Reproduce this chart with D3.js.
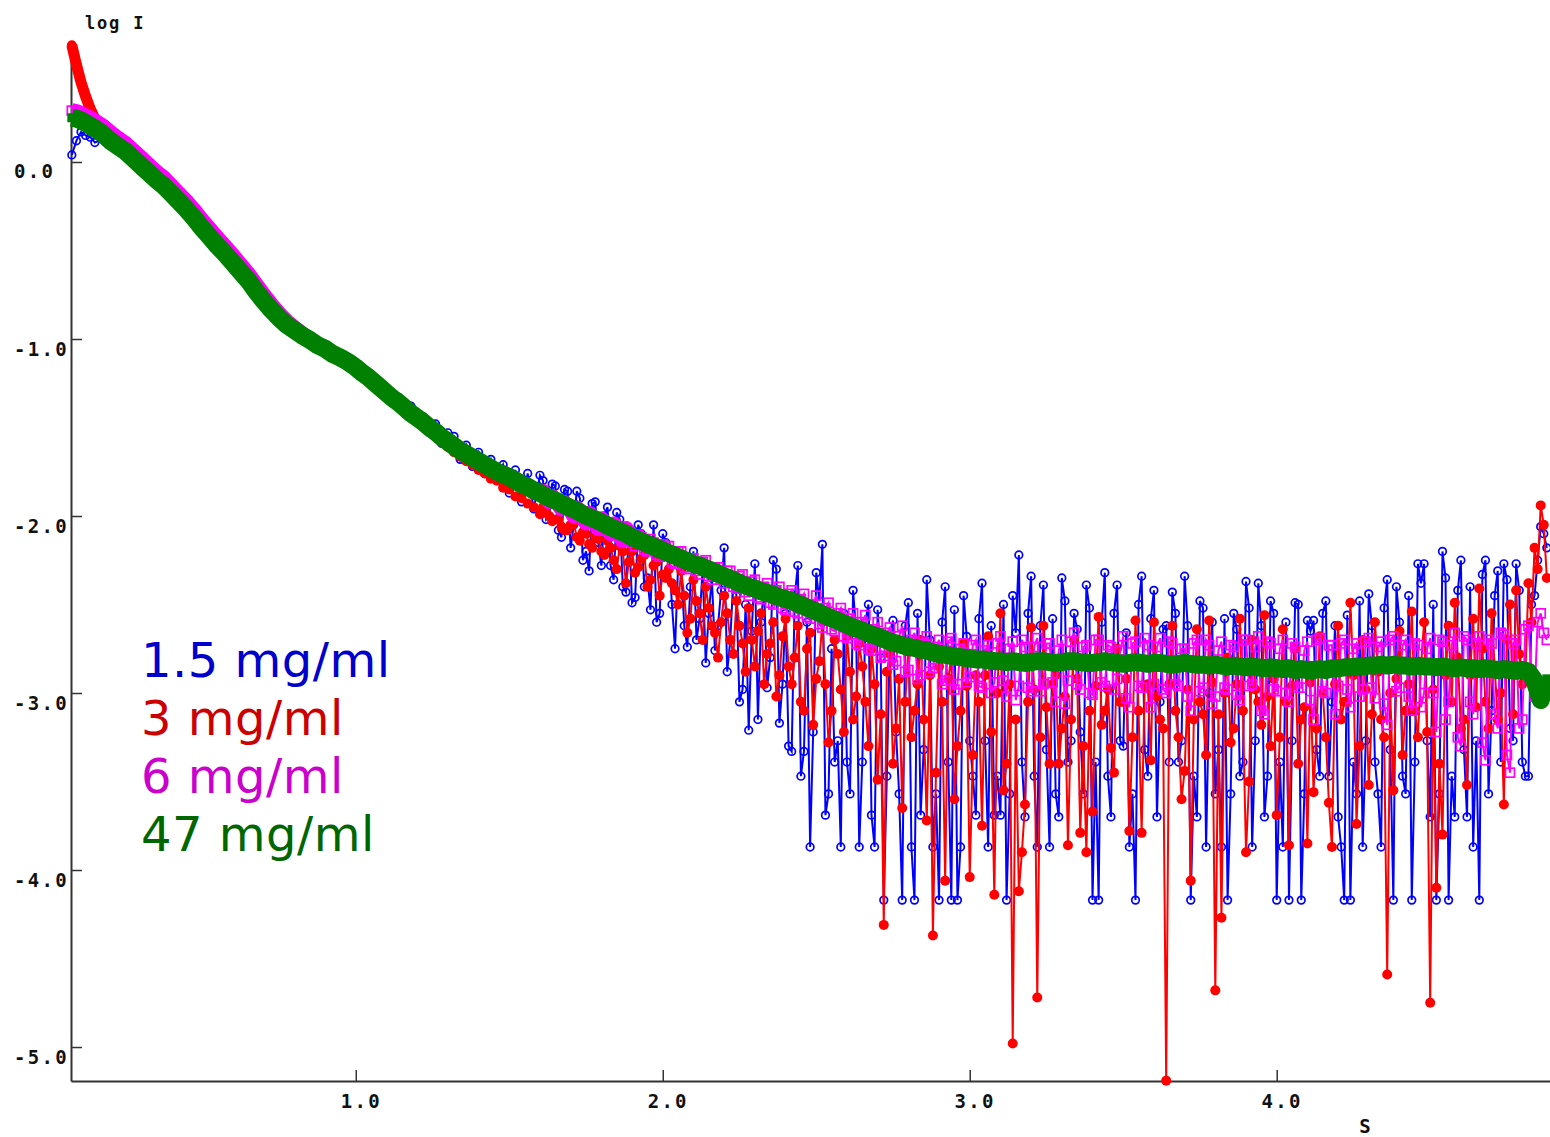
<!DOCTYPE html>
<html>
<head>
<meta charset="utf-8">
<script src="https://cdn.jsdelivr.net/npm/d3@7"></script>
<style>
  body { margin: 0; background: #ffffff; }
  svg { display: block; }
</style>
</head>
<body>
<svg id="chart" width="1550" height="1137"></svg>
<script>
// s values shared by all four curves
const sGrid = [
  0.075, 0.09, 0.105, 0.12, 0.135, 0.15, 0.175, 0.2, 0.225, 0.25,
  0.275, 0.3, 0.325, 0.35, 0.375, 0.4, 0.425, 0.45, 0.475, 0.5,
  0.525, 0.55, 0.575, 0.6, 0.625, 0.65, 0.675, 0.7, 0.725, 0.75,
  0.775, 0.8, 0.825, 0.85, 0.875, 0.9, 0.925, 0.95, 0.975, 1.0,
  1.02, 1.04, 1.06, 1.08, 1.1, 1.12, 1.14, 1.16, 1.18, 1.2,
  1.22, 1.24, 1.26, 1.28, 1.3, 1.32, 1.34, 1.36, 1.38, 1.4,
  1.42, 1.44, 1.46, 1.48, 1.5, 1.52, 1.54, 1.56, 1.58, 1.6,
  1.62, 1.64, 1.66, 1.68, 1.7, 1.72, 1.74, 1.76, 1.78, 1.8,
  1.82, 1.84, 1.86, 1.88, 1.9, 1.92, 1.94, 1.96, 1.98, 2.0,
  2.02, 2.04, 2.06, 2.08, 2.1, 2.12, 2.14, 2.16, 2.18, 2.2,
  2.22, 2.24, 2.26, 2.28, 2.3, 2.32, 2.34, 2.36, 2.38, 2.4,
  2.42, 2.44, 2.46, 2.48, 2.5, 2.52, 2.54, 2.56, 2.58, 2.6,
  2.62, 2.64, 2.66, 2.68, 2.7, 2.72, 2.74, 2.76, 2.78, 2.8,
  2.82, 2.84, 2.86, 2.88, 2.9, 2.92, 2.94, 2.96, 2.98, 3.0,
  3.02, 3.04, 3.06, 3.08, 3.1, 3.12, 3.14, 3.16, 3.18, 3.2,
  3.22, 3.24, 3.26, 3.28, 3.3, 3.32, 3.34, 3.36, 3.38, 3.4,
  3.42, 3.44, 3.46, 3.48, 3.5, 3.52, 3.54, 3.56, 3.58, 3.6,
  3.62, 3.64, 3.66, 3.68, 3.7, 3.72, 3.74, 3.76, 3.78, 3.8,
  3.82, 3.84, 3.86, 3.88, 3.9, 3.92, 3.94, 3.96, 3.98, 4.0,
  4.02, 4.04, 4.06, 4.08, 4.1, 4.12, 4.14, 4.16, 4.18, 4.2,
  4.22, 4.24, 4.26, 4.28, 4.3, 4.32, 4.34, 4.36, 4.38, 4.4,
  4.42, 4.44, 4.46, 4.48, 4.5, 4.52, 4.54, 4.56, 4.58, 4.6,
  4.62, 4.64, 4.66, 4.68, 4.7, 4.72, 4.74, 4.76, 4.78, 4.8,
  4.82, 4.84, 4.86, 4.88
];

// extra in-between s values where the noisy curves are sampled densely
const sMid = [
  1.61, 1.63, 1.65, 1.67, 1.69, 1.71, 1.73, 1.75, 1.77, 1.79,
  1.81, 1.83, 1.85, 1.87, 1.89, 1.91, 1.93, 1.95, 1.97, 1.99,
  2.01, 2.03, 2.05, 2.07, 2.09, 2.11, 2.13, 2.15, 2.17, 2.19, 2.21,
  2.23, 2.25, 2.27, 2.29, 2.31, 2.33, 2.35, 2.37, 2.39, 2.41,
  2.43, 2.45, 2.47, 2.49, 2.51, 2.53, 2.55, 2.57, 2.59, 2.61,
  2.63, 2.65, 2.67, 2.69, 2.71, 2.73, 2.75, 2.77, 2.79, 2.81,
  2.83, 2.85, 2.87, 2.89, 2.91, 2.93, 2.95, 2.97, 2.99, 3.01,
  3.03, 3.05, 3.07, 3.09, 3.11, 3.13, 3.15, 3.17, 3.19, 3.21,
  3.23, 3.25, 3.27, 3.29, 3.31, 3.33, 3.35, 3.37, 3.39, 3.41,
  3.43, 3.45, 3.47, 3.49, 3.51, 3.53, 3.55, 3.57, 3.59, 3.61,
  3.63, 3.65, 3.67, 3.69, 3.71, 3.73, 3.75, 3.77, 3.79, 3.81,
  3.83, 3.85, 3.87, 3.89, 3.91, 3.93, 3.95, 3.97, 3.99, 4.01,
  4.03, 4.05, 4.07, 4.09, 4.11, 4.13, 4.15, 4.17, 4.19, 4.21,
  4.23, 4.25, 4.27, 4.29, 4.31, 4.33, 4.35, 4.37, 4.39, 4.41,
  4.43, 4.45, 4.47, 4.49, 4.51, 4.53, 4.55, 4.57, 4.59, 4.61,
  4.63, 4.65, 4.67, 4.69, 4.71, 4.73, 4.75, 4.77, 4.79, 4.81,
  4.83, 4.85, 4.87
];

// log I, 1.5 mg/ml
const blue15 = [
  0.04, 0.12, 0.17, 0.15, 0.14, 0.11, 0.13, 0.1, 0.075, 0.05,
  0.0, -0.035, -0.08, -0.115, -0.15, -0.2, -0.24, -0.29, -0.335, -0.39,
  -0.44, -0.49, -0.535, -0.585, -0.635, -0.685, -0.745, -0.8, -0.85, -0.895,
  -0.935, -0.965, -0.995, -1.02, -1.05, -1.065, -1.1, -1.115, -1.15, -1.165,
  -1.17, -1.23, -1.22, -1.3, -1.28, -1.36, -1.33, -1.42, -1.38, -1.47,
  -1.44, -1.53, -1.48, -1.59, -1.53, -1.55, -1.68, -1.6, -1.72, -1.64,
  -1.76, -1.68, -1.8, -1.71, -1.87, -1.74, -1.92, -1.76, -1.96, -1.77,
  -2.02, -1.82, -2.08, -1.85, -2.18, -1.86, -2.25, -2.31, -1.92, -2.28,
  -1.95, -2.36, -2.02, -2.43, -2.49, -2.05, -2.4, -2.53, -2.6, -2.1,
  -2.22, -2.75, -2.3, -2.74, -2.2, -2.58, -2.83, -2.35, -2.62, -2.18,
  -2.7, -2.45, -2.98, -3.21, -2.27, -2.6, -2.97, -2.25, -3.17, -2.55,
  -3.33, -2.28, -3.33, -3.87, -2.32, -2.16, -3.57, -3.39, -3.87, -3.39,
  -2.42, -3.87, -2.6, -3.69, -2.53, -4.17, -2.7, -3.22, -4.17, -2.49,
  -4.17, -3.69, -2.36, -3.87, -4.17, -2.4, -4.17, -4.17, -2.45, -3.27,
  -3.69, -2.38, -3.87, -3.69, -3.69, -4.17, -2.45, -2.22, -3.7, -2.34,
  -3.87, -2.39, -3.87, -3.57, -2.35, -3.39, -2.55, -3.22, -2.39, -4.17,
  -4.17, -2.32, -3.7, -2.39, -3.3, -3.87, -4.17, -2.34, -3.47, -2.42,
  -3.05, -2.62, -2.43, -3.39, -2.34, -4.17, -3.7, -2.52, -3.0, -3.57,
  -3.87, -4.17, -2.55, -3.47, -2.37, -3.87, -2.38, -3.7, -2.48, -4.17,
  -3.87, -4.17, -2.49, -4.17, -2.59, -2.59, -3.47, -2.48, -3.05, -3.7,
  -4.17, -4.17, -3.57, -3.87, -2.44, -3.39, -3.87, -2.36, -4.17, -2.6,
  -3.57, -4.17, -2.27, -2.27, -3.7, -4.17, -2.2, -4.17, -3.7, -2.25,
  -3.7, -3.87, -4.17, -2.25, -3.1, -2.31, -2.27, -3.2, -2.27, -3.39,
  -3.47, -2.45, -2.06, -2.18
];
const blue15Mid = [
  -1.8, -2.0, -1.83, -2.12, -1.86, -2.05, -1.9, -2.2, -1.93, -2.15,
  -2.0, -2.28, -1.98, -2.4, -2.08, -2.46, -2.1, -2.35, -2.05, -2.55,
  -2.15, -2.5, -2.28, -2.62, -2.4, -2.7, -2.3, -2.55, -2.76, -2.42, -2.88,
  -2.35, -3.05, -2.5, -2.65, -3.15, -2.4, -2.8, -2.3, -2.95, -3.3,
  -2.45, -3.47, -2.6, -3.22, -2.48, -3.69, -2.75, -3.27, -2.55, -3.57,
  -2.65, -3.39, -2.5, -3.87, -2.8, -3.47, -2.59, -3.57, -2.62, -3.87,
  -2.55, -3.32, -2.7, -3.57, -2.6, -3.39, -2.53, -3.87, -2.68, -3.47,
  -2.58, -3.27, -2.62, -3.47, -2.5, -3.57, -2.66, -3.39, -2.55, -3.47,
  -2.62, -3.32, -2.58, -3.7, -2.48, -3.27, -2.64, -3.57, -2.52, -3.39,
  -2.6, -3.47, -2.55, -3.27, -2.66, -3.57, -2.5, -3.32, -2.58, -3.7,
  -2.64, -3.39, -2.55, -3.27, -2.62, -3.47, -2.48, -3.87, -2.6, -3.32,
  -2.58, -3.57, -2.64, -3.39, -2.52, -3.27, -2.62, -3.47, -2.55, -3.39,
  -2.6, -3.27, -2.5, -3.57, -2.65, -3.32, -2.55, -3.47, -2.62, -3.87,
  -2.56, -3.39, -2.48, -3.27, -2.62, -3.57, -2.52, -3.32, -2.4, -3.47,
  -2.45, -3.39, -2.38, -3.27, -2.5, -3.57, -2.35, -3.47, -2.42, -3.32,
  -2.4, -3.27, -2.33, -3.57, -2.45, -3.39, -2.36, -3.27, -2.42, -3.47,
  -2.5, -2.25, -2.1
];

// log I, 3 mg/ml
const red3 = [
  0.66, 0.55, 0.45, 0.37, 0.3, 0.245, 0.17, 0.115, 0.08, 0.05,
  0.01, -0.03, -0.07, -0.11, -0.145, -0.19, -0.235, -0.28, -0.33, -0.385,
  -0.435, -0.485, -0.53, -0.58, -0.63, -0.68, -0.74, -0.795, -0.845, -0.89,
  -0.93, -0.96, -0.99, -1.015, -1.045, -1.07, -1.095, -1.12, -1.145, -1.175,
  -1.2, -1.225, -1.26, -1.29, -1.32, -1.35, -1.375, -1.41, -1.435, -1.465,
  -1.49, -1.525, -1.55, -1.585, -1.61, -1.64, -1.665, -1.69, -1.71, -1.74,
  -1.76, -1.79, -1.8, -1.84, -1.85, -1.89, -1.9, -1.93, -1.95, -1.99,
  -1.98, -2.03, -2.02, -2.08, -2.05, -2.12, -2.09, -2.16, -2.12, -2.2,
  -2.14, -2.25, -2.17, -2.38, -2.2, -2.29, -2.22, -2.36, -2.26, -2.33,
  -2.3, -2.42, -2.31, -2.66, -2.36, -2.55, -2.4, -2.62, -2.8, -2.45,
  -2.7, -2.48, -2.72, -2.52, -2.85, -2.55, -2.78, -2.6, -2.9, -2.58,
  -2.95, -2.62, -3.1, -2.66, -2.92, -2.6, -3.28, -2.7, -2.98, -2.68,
  -3.15, -2.72, -3.05, -2.75, -3.49, -4.31, -2.78, -3.2, -3.65, -2.74,
  -3.1, -2.7, -3.72, -4.37, -2.85, -4.06, -2.8, -3.3, -2.72, -4.04,
  -2.9, -3.75, -2.68, -4.14, -2.55, -3.4, -4.98, -4.12, -3.63, -2.63,
  -4.72, -2.62, -3.4, -2.9, -3.2, -3.86, -2.7, -3.79, -3.9, -3.67,
  -2.57, -3.1, -3.31, -2.75, -3.05, -3.78, -2.59, -3.79, -2.95, -2.6,
  -3.15, -5.19, -2.62, -3.25, -3.44, -4.06, -2.64, -3.12, -2.59, -4.68,
  -4.27, -2.8, -3.2, -2.58, -3.9, -2.7, -3.05, -2.56, -3.3, -3.69,
  -2.64, -3.86, -2.75, -3.15, -3.85, -3.56, -2.68, -3.25, -3.87, -2.62,
  -3.05, -2.49, -3.74, -2.7, -3.52, -2.6, -3.15, -4.59, -3.55, -2.65,
  -3.1, -2.54, -3.25, -2.6, -4.75, -4.1, -3.8, -2.62, -2.49, -3.2,
  -3.52, -2.58, -2.41, -3.05, -2.55, -3.15, -3.63, -2.5, -2.42, -2.95,
  -2.38, -2.18, -1.94, -2.35
];
const red3Mid = [
  -1.95, -2.0, -2.02, -2.06, -2.08, -2.04, -2.14, -2.1, -2.18, -2.13,
  -2.22, -2.18, -2.3, -2.2, -2.26, -2.32, -2.24, -2.4, -2.28, -2.45,
  -2.35, -2.38, -2.5, -2.45, -2.58, -2.48, -2.7, -2.52, -2.66, -2.6, -2.55,
  -2.78, -2.62, -2.88, -2.7, -2.65, -2.95, -2.72, -3.02, -2.68, -2.85,
  -2.8, -3.05, -2.75, -3.18, -2.82, -2.95, -3.1, -2.78, -3.22, -2.88,
  -3.02, -2.85, -3.3, -2.95, -3.12, -2.88, -3.4, -2.92, -3.05, -3.25,
  -2.95, -3.15, -2.9, -3.45, -3.05, -2.92, -3.6, -3.1, -2.96, -3.35,
  -3.05, -2.9, -3.22, -3.0, -3.55, -2.95, -3.15, -3.9, -3.05, -2.98,
  -3.25, -3.08, -2.95, -3.4, -3.02, -3.15, -2.92, -3.3, -3.1, -2.96,
  -3.18, -2.98, -3.45, -3.05, -2.92, -3.25, -3.1, -2.96, -3.38, -3.02,
  -3.2, -2.95, -3.1, -3.6, -2.98, -3.15, -3.05, -3.35, -2.94, -3.12,
  -3.0, -3.28, -2.95, -3.1, -3.5, -2.98, -3.18, -3.02, -2.92, -3.25,
  -3.05, -2.96, -3.4, -3.08, -2.94, -3.2, -3.0, -3.62, -2.95, -3.15,
  -3.05, -2.9, -3.3, -2.98, -3.12, -2.88, -3.25, -3.0, -2.92, -3.35,
  -2.95, -3.1, -2.85, -3.22, -2.98, -3.4, -2.9, -3.05, -2.8, -3.15,
  -2.9, -3.08, -2.75, -3.2, -2.85, -3.0, -2.7, -3.12, -2.78, -2.9,
  -2.6, -2.3, -2.05
];

// log I, 6 mg/ml
const magenta6 = [
  0.29, 0.285, 0.275, 0.262, 0.248, 0.233, 0.205, 0.168, 0.135, 0.105,
  0.065, 0.025, -0.015, -0.055, -0.09, -0.135, -0.18, -0.225, -0.275, -0.33,
  -0.38, -0.43, -0.478, -0.528, -0.58, -0.632, -0.69, -0.75, -0.805, -0.855,
  -0.9, -0.935, -0.97, -1.0, -1.03, -1.055, -1.08, -1.105, -1.13, -1.155,
  -1.185, -1.21, -1.245, -1.27, -1.305, -1.33, -1.365, -1.385, -1.42, -1.44,
  -1.475, -1.495, -1.53, -1.55, -1.585, -1.6, -1.635, -1.645, -1.675, -1.685,
  -1.715, -1.725, -1.76, -1.755, -1.79, -1.79, -1.83, -1.825, -1.865, -1.86,
  -1.9, -1.89, -1.935, -1.925, -1.97, -1.955, -2.01, -1.985, -2.045, -2.015,
  -2.08, -2.045, -2.115, -2.07, -2.15, -2.105, -2.19, -2.13, -2.22, -2.16,
  -2.17, -2.27, -2.2, -2.3, -2.24, -2.33, -2.25, -2.36, -2.29, -2.38,
  -2.31, -2.41, -2.33, -2.45, -2.36, -2.47, -2.38, -2.5, -2.4, -2.53,
  -2.42, -2.55, -2.44, -2.58, -2.45, -2.63, -2.49, -2.65, -2.52, -2.69,
  -2.55, -2.73, -2.56, -2.76, -2.6, -2.79, -2.63, -2.82, -2.62, -2.87,
  -2.66, -2.9, -2.68, -2.86, -2.7, -2.93, -2.69, -2.95, -2.72, -2.91,
  -2.7, -2.97, -2.73, -2.94, -2.68, -3.02, -2.71, -2.96, -2.74, -2.99,
  -2.69, -2.95, -2.72, -3.05, -2.7, -2.93, -2.66, -2.98, -2.73, -3.01,
  -2.7, -2.96, -2.74, -2.92, -2.68, -3.08, -2.71, -2.97, -2.73, -2.95,
  -2.69, -3.0, -2.72, -2.96, -2.75, -3.1, -2.7, -2.97, -2.73, -3.02,
  -2.71, -2.98, -2.74, -3.04, -2.7, -2.95, -2.68, -3.12, -2.72, -2.99,
  -2.7, -3.05, -2.74, -2.97, -2.71, -3.15, -2.69, -3.0, -2.73, -2.96,
  -2.7, -3.08, -2.72, -2.98, -2.69, -3.03, -2.71, -3.18, -2.68, -2.97,
  -2.7, -3.1, -2.73, -3.0, -2.69, -3.22, -2.71, -3.05, -2.66, -3.3,
  -2.7, -3.12, -2.68, -3.38, -2.72, -3.2, -2.67, -3.45, -2.7, -3.15,
  -2.62, -3.02, -2.55, -2.7
];
const magenta6Mid = [
  -1.86, -1.92, -1.91, -1.96, -1.94, -2.0, -1.97, -2.04, -2.0, -2.07,
  -2.03, -2.1, -2.06, -2.14, -2.09, -2.17, -2.12, -2.2, -2.15, -2.23,
  -2.18, -2.26, -2.2, -2.29, -2.24, -2.31, -2.26, -2.34, -2.29, -2.36, -2.31,
  -2.4, -2.34, -2.43, -2.37, -2.46, -2.4, -2.49, -2.42, -2.52, -2.44,
  -2.54, -2.47, -2.57, -2.5, -2.61, -2.52, -2.64, -2.55, -2.68, -2.58,
  -2.72, -2.6, -2.75, -2.64, -2.8, -2.66, -2.84, -2.68, -2.88, -2.7,
  -2.92, -2.72, -2.88, -2.74, -2.95, -2.71, -2.98, -2.75, -2.94, -2.73,
  -2.96, -2.76, -3.0, -2.72, -2.93, -2.75, -3.04, -2.7, -2.97, -2.74,
  -2.99, -2.72, -2.94, -2.76, -3.06, -2.71, -2.95, -2.74, -3.0, -2.7,
  -2.94, -2.73, -2.98, -2.76, -3.03, -2.72, -2.96, -2.69, -3.08, -2.74,
  -2.98, -2.71, -2.95, -2.75, -3.02, -2.72, -2.99, -2.7, -3.06, -2.76,
  -2.97, -2.73, -3.01, -2.7, -2.96, -2.74, -3.1, -2.71, -2.98, -2.75,
  -3.0, -2.72, -2.97, -2.76, -3.04, -2.7, -2.99, -2.73, -3.12, -2.72,
  -2.98, -2.75, -3.02, -2.71, -2.97, -2.74, -3.06, -2.7, -2.99, -2.73,
  -3.02, -2.72, -3.08, -2.75, -3.0, -2.7, -3.15, -2.73, -3.25, -2.68,
  -3.05, -2.72, -3.28, -2.7, -3.12, -2.66, -3.35, -2.72, -3.2, -2.64,
  -2.9, -2.6, -2.66
];

// log I, 47 mg/ml
const green47 = [
  0.25, 0.245, 0.235, 0.22, 0.205, 0.19, 0.16, 0.12, 0.09, 0.06,
  0.02, -0.02, -0.06, -0.1, -0.135, -0.18, -0.225, -0.27, -0.32, -0.375,
  -0.425, -0.475, -0.52, -0.57, -0.62, -0.67, -0.73, -0.785, -0.835, -0.88,
  -0.92, -0.95, -0.98, -1.005, -1.035, -1.055, -1.085, -1.105, -1.13, -1.16,
  -1.19, -1.215, -1.245, -1.275, -1.305, -1.335, -1.36, -1.39, -1.42, -1.445,
  -1.47, -1.5, -1.525, -1.555, -1.58, -1.605, -1.63, -1.65, -1.67, -1.69,
  -1.71, -1.73, -1.75, -1.765, -1.78, -1.8, -1.82, -1.835, -1.855, -1.87,
  -1.89, -1.905, -1.92, -1.94, -1.955, -1.97, -1.99, -2.005, -2.02, -2.035,
  -2.055, -2.07, -2.085, -2.1, -2.12, -2.135, -2.15, -2.165, -2.18, -2.195,
  -2.21, -2.225, -2.24, -2.255, -2.27, -2.28, -2.295, -2.31, -2.325, -2.34,
  -2.355, -2.37, -2.385, -2.4, -2.41, -2.425, -2.435, -2.445, -2.46, -2.47,
  -2.48, -2.495, -2.51, -2.525, -2.54, -2.555, -2.57, -2.585, -2.6, -2.615,
  -2.63, -2.64, -2.655, -2.67, -2.68, -2.695, -2.71, -2.72, -2.73, -2.74,
  -2.745, -2.755, -2.76, -2.77, -2.78, -2.785, -2.79, -2.795, -2.8, -2.805,
  -2.81, -2.81, -2.815, -2.82, -2.82, -2.825, -2.82, -2.825, -2.83, -2.825,
  -2.82, -2.82, -2.825, -2.83, -2.825, -2.82, -2.82, -2.825, -2.83, -2.83,
  -2.825, -2.82, -2.825, -2.83, -2.835, -2.83, -2.825, -2.83, -2.835, -2.83,
  -2.83, -2.835, -2.84, -2.835, -2.83, -2.835, -2.84, -2.84, -2.845, -2.84,
  -2.845, -2.85, -2.845, -2.85, -2.855, -2.85, -2.855, -2.86, -2.855, -2.86,
  -2.865, -2.86, -2.87, -2.865, -2.87, -2.87, -2.865, -2.87, -2.86, -2.86,
  -2.855, -2.855, -2.85, -2.85, -2.845, -2.845, -2.84, -2.845, -2.84, -2.845,
  -2.845, -2.85, -2.845, -2.85, -2.85, -2.855, -2.85, -2.855, -2.86, -2.855,
  -2.86, -2.86, -2.865, -2.86, -2.865, -2.87, -2.865, -2.87, -2.875, -2.87,
  -2.88, -2.93, -3.04, -2.92
];

const yTicks = [0, -1, -2, -3, -4, -5];
const xTicks = [1, 2, 3, 4];
const legendLabels = ["1.5 mg/ml", "3 mg/ml", "6 mg/ml", "47 mg/ml"];

let plotLeft = 71;
let plotRight = 1550;
let plotTop = 61;
let plotBottom = 1081;
let axisColor = "#333333";
let tickFont = "'DejaVu Sans Mono', 'Liberation Mono', monospace";

const svg = d3.select("#chart");

const x = d3.scaleLinear().domain([0.0723, 4.8903]).range([plotLeft, plotRight]);
const y = d3.scaleLinear().domain([-5.192, 0.5706]).range([plotBottom, plotTop]);

const series = [
  { label: legendLabels[0], values: blue15, mid: blue15Mid, color: "#0000ff", textColor: "#0000cc", marker: "openCircle", bandUntil: 0, bandWidth: 0 },
  { label: legendLabels[1], values: red3, mid: red3Mid, color: "#ff0000", textColor: "#cc0000", marker: "dot", bandUntil: 1.0, bandWidth: 11 },
  { label: legendLabels[2], values: magenta6, mid: magenta6Mid, color: "#ff00ff", textColor: "#cc00cc", marker: "openSquare", bandUntil: 1.9, bandWidth: 15 },
  { label: legendLabels[3], values: green47, mid: null, color: "#008000", textColor: "#006600", marker: "square", bandUntil: 5, bandWidth: 18 },
];

function drawAxes() {
  const yAxis = d3.axisLeft(y)
    .tickValues(yTicks)
    .tickSize(-11)
    .tickSizeOuter(0)
    .tickFormat(d => d.toFixed(1));

  const gy = svg.append("g")
    .attr("transform", "translate(" + plotLeft + ",0)")
    .call(yAxis);
  gy.select(".domain").attr("stroke", axisColor).attr("stroke-width", 2);
  gy.selectAll(".tick line").attr("stroke", axisColor).attr("stroke-width", 1.5);
  gy.selectAll(".tick text")
    .attr("x", 14 - plotLeft)
    .attr("y", 16)
    .attr("dy", null)
    .attr("text-anchor", "start")
    .attr("fill", "#111")
    .style("font-family", tickFont)
    .style("font-weight", "bold")
    .style("font-size", "19px")
    .style("letter-spacing", "2.3px");

  const xAxis = d3.axisBottom(x)
    .tickValues(xTicks)
    .tickSize(-11)
    .tickSizeOuter(0)
    .tickFormat(d => d.toFixed(1));

  const gx = svg.append("g")
    .attr("transform", "translate(0," + plotBottom + ")")
    .call(xAxis);
  gx.select(".domain").attr("stroke", axisColor).attr("stroke-width", 2);
  gx.selectAll(".tick line").attr("stroke", axisColor).attr("stroke-width", 1.5);
  gx.selectAll(".tick text")
    .attr("x", 5)
    .attr("y", 27)
    .attr("dy", null)
    .attr("fill", "#111")
    .style("font-family", tickFont)
    .style("font-weight", "bold")
    .style("font-size", "19px")
    .style("letter-spacing", "2.3px");

  svg.append("text")
    .attr("x", 85)
    .attr("y", 29)
    .attr("fill", "#111")
    .style("font-family", tickFont)
    .style("font-weight", "bold")
    .style("font-size", "17px")
    .style("letter-spacing", "1.8px")
    .text("log I");

  svg.append("text")
    .attr("x", 1365)
    .attr("y", 1133)
    .attr("text-anchor", "middle")
    .attr("fill", "#111")
    .style("font-family", tickFont)
    .style("font-weight", "bold")
    .style("font-size", "19px")
    .text("S");
}

function seriesPoints(d) {
  const pts = sGrid.map((s, i) => ({ s: s, v: d.values[i] }));
  if (d.mid) {
    sMid.forEach((s, i) => pts.push({ s: s, v: d.mid[i] }));
  }
  pts.sort((a, b) => a.s - b.s);
  return pts;
}

function drawSeries(d) {
  const pts = seriesPoints(d);
  const line = d3.line().x(p => x(p.s)).y(p => y(p.v));
  const g = svg.append("g");

  // dense low-noise part shows as a solid band
  if (d.bandUntil > 0) {
    g.append("path")
      .datum(pts.filter(p => p.s <= d.bandUntil))
      .attr("d", line)
      .attr("fill", "none")
      .attr("stroke", d.color)
      .attr("stroke-width", d.bandWidth)
      .attr("stroke-linejoin", "round")
      .attr("stroke-linecap", "butt");
  }

  g.append("path")
    .datum(pts)
    .attr("d", line)
    .attr("fill", "none")
    .attr("stroke", d.color)
    .attr("stroke-width", 2);

  if (d.marker === "openCircle" || d.marker === "dot") {
    g.selectAll("circle")
      .data(pts)
      .enter()
      .append("circle")
      .attr("cx", p => x(p.s))
      .attr("cy", p => y(p.v))
      .attr("r", d.marker === "dot" ? 5 : 3.8)
      .attr("fill", d.marker === "dot" ? d.color : "none")
      .attr("stroke", d.color)
      .attr("stroke-width", d.marker === "dot" ? 0 : 1.7);
  } else {
    g.selectAll("rect")
      .data(pts)
      .enter()
      .append("rect")
      .attr("x", p => x(p.s) - 4.5)
      .attr("y", p => y(p.v) - 4.5)
      .attr("width", 9)
      .attr("height", 9)
      .attr("fill", d.marker === "square" ? d.color : "none")
      .attr("stroke", d.color)
      .attr("stroke-width", d.marker === "square" ? 0 : 1.7);
  }
}

function drawLegend() {
  svg.append("g")
    .selectAll("text")
    .data(series)
    .enter()
    .append("text")
    .attr("x", 141)
    .attr("y", (d, i) => 677 + i * 58)
    .attr("fill", d => d.textColor)
    .style("font-family", "'DejaVu Sans', Verdana, sans-serif")
    .style("font-size", "48px")
    .style("letter-spacing", "0.5px")
    .text(d => d.label);
}

drawAxes();
series.forEach(drawSeries);
drawLegend();
</script>
</body>
</html>
